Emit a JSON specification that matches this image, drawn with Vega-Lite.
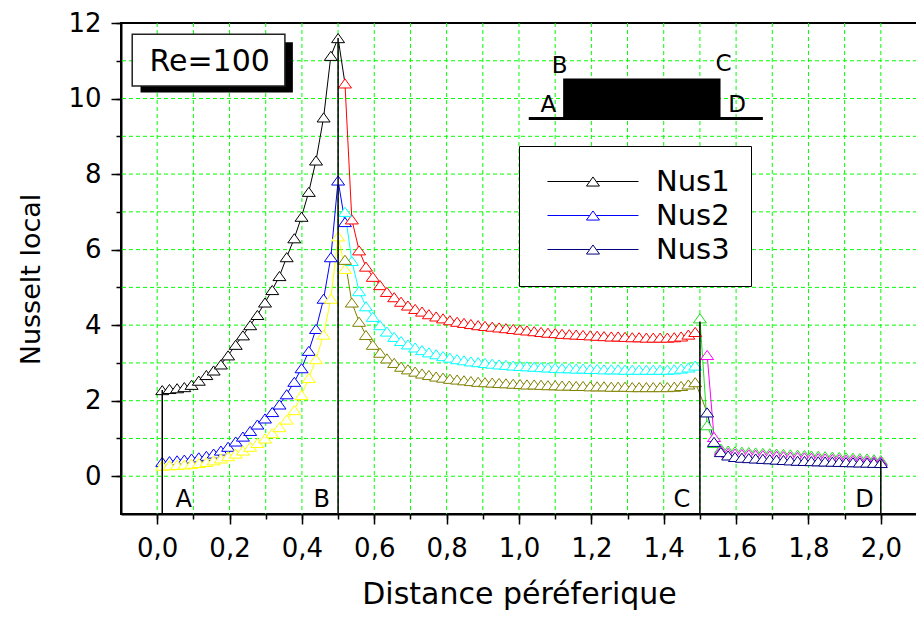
{
 "$schema": "https://vega.github.io/schema/vega-lite/v6.json",
 "width": 796, "height": 491,
 "autosize": {"type": "none"},
 "padding": {"left": 121, "top": 23, "right": 0, "bottom": 103},
 "background": "white",
 "config": {"view": {"stroke": "black", "strokeWidth": 2}, "font": "DejaVu Sans"},
 "resolve": {"axis": {"x": "independent", "y": "independent"}},
 "datasets": {
  "xgrid": [{"v":0},{"v":0.1},{"v":0.2},{"v":0.3},{"v":0.4},{"v":0.5},{"v":0.6},{"v":0.7},{"v":0.8},{"v":0.9},{"v":1.0},{"v":1.1},{"v":1.2},{"v":1.3},{"v":1.4},{"v":1.5},{"v":1.6},{"v":1.7},{"v":1.8},{"v":1.9},{"v":2.0}],
  "ygrid": [{"v":0},{"v":1},{"v":2},{"v":3},{"v":4},{"v":5},{"v":6},{"v":7},{"v":8},{"v":9},{"v":10},{"v":11}],
  "curves": [
   {"s":"Nus1","x":0.014,"y":2.28},{"s":"Nus1","x":0.034,"y":2.31},{"s":"Nus1","x":0.055,"y":2.33},{"s":"Nus1","x":0.075,"y":2.36},{"s":"Nus1","x":0.095,"y":2.42},{"s":"Nus1","x":0.115,"y":2.53},{"s":"Nus1","x":0.136,"y":2.68},{"s":"Nus1","x":0.156,"y":2.8},{"s":"Nus1","x":0.176,"y":2.96},{"s":"Nus1","x":0.196,"y":3.2},{"s":"Nus1","x":0.217,"y":3.48},{"s":"Nus1","x":0.237,"y":3.73},{"s":"Nus1","x":0.257,"y":4.0},{"s":"Nus1","x":0.277,"y":4.27},{"s":"Nus1","x":0.298,"y":4.6},{"s":"Nus1","x":0.318,"y":4.93},{"s":"Nus1","x":0.338,"y":5.3},{"s":"Nus1","x":0.358,"y":5.8},{"s":"Nus1","x":0.379,"y":6.3},{"s":"Nus1","x":0.399,"y":6.87},{"s":"Nus1","x":0.419,"y":7.53},{"s":"Nus1","x":0.439,"y":8.36},{"s":"Nus1","x":0.46,"y":9.5},{"s":"Nus1","x":0.48,"y":11.13},{"s":"Nus1","x":0.5,"y":11.6},{"s":"Nus1","x":0.519,"y":10.4,"k":1},
   {"s":"Nus2","x":0.014,"y":0.38},{"s":"Nus2","x":0.034,"y":0.4},{"s":"Nus2","x":0.055,"y":0.42},{"s":"Nus2","x":0.075,"y":0.44},{"s":"Nus2","x":0.095,"y":0.47},{"s":"Nus2","x":0.115,"y":0.5},{"s":"Nus2","x":0.136,"y":0.54},{"s":"Nus2","x":0.156,"y":0.6},{"s":"Nus2","x":0.176,"y":0.68},{"s":"Nus2","x":0.196,"y":0.78},{"s":"Nus2","x":0.217,"y":0.92},{"s":"Nus2","x":0.237,"y":1.05},{"s":"Nus2","x":0.257,"y":1.2},{"s":"Nus2","x":0.277,"y":1.37},{"s":"Nus2","x":0.298,"y":1.53},{"s":"Nus2","x":0.318,"y":1.7},{"s":"Nus2","x":0.338,"y":1.9},{"s":"Nus2","x":0.358,"y":2.17},{"s":"Nus2","x":0.379,"y":2.5},{"s":"Nus2","x":0.399,"y":2.86},{"s":"Nus2","x":0.419,"y":3.32},{"s":"Nus2","x":0.439,"y":3.9},{"s":"Nus2","x":0.46,"y":4.7},{"s":"Nus2","x":0.48,"y":5.8},{"s":"Nus2","x":0.5,"y":7.83},{"s":"Nus2","x":0.519,"y":6.73},
   {"s":"AB3","x":0.014,"y":0.28},{"s":"AB3","x":0.034,"y":0.29},{"s":"AB3","x":0.055,"y":0.3},{"s":"AB3","x":0.075,"y":0.31},{"s":"AB3","x":0.095,"y":0.33},{"s":"AB3","x":0.115,"y":0.35},{"s":"AB3","x":0.136,"y":0.38},{"s":"AB3","x":0.156,"y":0.42},{"s":"AB3","x":0.176,"y":0.47},{"s":"AB3","x":0.196,"y":0.53},{"s":"AB3","x":0.217,"y":0.6},{"s":"AB3","x":0.237,"y":0.68},{"s":"AB3","x":0.257,"y":0.78},{"s":"AB3","x":0.277,"y":0.88},{"s":"AB3","x":0.298,"y":1.0},{"s":"AB3","x":0.318,"y":1.14},{"s":"AB3","x":0.338,"y":1.3},{"s":"AB3","x":0.358,"y":1.5},{"s":"AB3","x":0.379,"y":1.75},{"s":"AB3","x":0.399,"y":2.15},{"s":"AB3","x":0.419,"y":2.6},{"s":"AB3","x":0.439,"y":3.1},{"s":"AB3","x":0.46,"y":3.75},{"s":"AB3","x":0.48,"y":4.7},{"s":"AB3","x":0.5,"y":6.35},{"s":"AB3","x":0.519,"y":5.49},
   {"s":"BC1","x":0.519,"y":10.4},{"s":"BC1","x":0.538,"y":6.8},{"s":"BC1","x":0.558,"y":5.98},{"s":"BC1","x":0.577,"y":5.55},{"s":"BC1","x":0.596,"y":5.28},{"s":"BC1","x":0.616,"y":5.06},{"s":"BC1","x":0.635,"y":4.88},{"s":"BC1","x":0.655,"y":4.74},{"s":"BC1","x":0.674,"y":4.62},{"s":"BC1","x":0.693,"y":4.52},{"s":"BC1","x":0.713,"y":4.43},{"s":"BC1","x":0.732,"y":4.36},{"s":"BC1","x":0.751,"y":4.29},{"s":"BC1","x":0.771,"y":4.23},{"s":"BC1","x":0.79,"y":4.18},{"s":"BC1","x":0.809,"y":4.13},{"s":"BC1","x":0.829,"y":4.09},{"s":"BC1","x":0.848,"y":4.06},{"s":"BC1","x":0.867,"y":4.03},{"s":"BC1","x":0.887,"y":4.0},{"s":"BC1","x":0.906,"y":3.98},{"s":"BC1","x":0.926,"y":3.96},{"s":"BC1","x":0.945,"y":3.94},{"s":"BC1","x":0.964,"y":3.92},{"s":"BC1","x":0.984,"y":3.9},{"s":"BC1","x":1.003,"y":3.88},{"s":"BC1","x":1.022,"y":3.86},{"s":"BC1","x":1.042,"y":3.84},{"s":"BC1","x":1.061,"y":3.82},{"s":"BC1","x":1.08,"y":3.8},{"s":"BC1","x":1.1,"y":3.79},{"s":"BC1","x":1.119,"y":3.77},{"s":"BC1","x":1.139,"y":3.76},{"s":"BC1","x":1.158,"y":3.75},{"s":"BC1","x":1.177,"y":3.74},{"s":"BC1","x":1.197,"y":3.73},{"s":"BC1","x":1.216,"y":3.72},{"s":"BC1","x":1.235,"y":3.71},{"s":"BC1","x":1.255,"y":3.7},{"s":"BC1","x":1.274,"y":3.7},{"s":"BC1","x":1.293,"y":3.69},{"s":"BC1","x":1.313,"y":3.68},{"s":"BC1","x":1.332,"y":3.68},{"s":"BC1","x":1.352,"y":3.67},{"s":"BC1","x":1.371,"y":3.67},{"s":"BC1","x":1.39,"y":3.67},{"s":"BC1","x":1.41,"y":3.67},{"s":"BC1","x":1.429,"y":3.68},{"s":"BC1","x":1.448,"y":3.7},{"s":"BC1","x":1.468,"y":3.75},{"s":"BC1","x":1.487,"y":3.82},
   {"s":"BC2","x":0.519,"y":7.0},{"s":"BC2","x":0.538,"y":5.7},{"s":"BC2","x":0.558,"y":4.9},{"s":"BC2","x":0.577,"y":4.5},{"s":"BC2","x":0.596,"y":4.22},{"s":"BC2","x":0.616,"y":4.0},{"s":"BC2","x":0.635,"y":3.83},{"s":"BC2","x":0.655,"y":3.69},{"s":"BC2","x":0.674,"y":3.58},{"s":"BC2","x":0.693,"y":3.49},{"s":"BC2","x":0.713,"y":3.41},{"s":"BC2","x":0.732,"y":3.34},{"s":"BC2","x":0.751,"y":3.28},{"s":"BC2","x":0.771,"y":3.23},{"s":"BC2","x":0.79,"y":3.18},{"s":"BC2","x":0.809,"y":3.14},{"s":"BC2","x":0.829,"y":3.1},{"s":"BC2","x":0.848,"y":3.07},{"s":"BC2","x":0.867,"y":3.04},{"s":"BC2","x":0.887,"y":3.02},{"s":"BC2","x":0.906,"y":3.0},{"s":"BC2","x":0.926,"y":2.98},{"s":"BC2","x":0.945,"y":2.96},{"s":"BC2","x":0.964,"y":2.95},{"s":"BC2","x":0.984,"y":2.93},{"s":"BC2","x":1.003,"y":2.92},{"s":"BC2","x":1.022,"y":2.91},{"s":"BC2","x":1.042,"y":2.9},{"s":"BC2","x":1.061,"y":2.89},{"s":"BC2","x":1.08,"y":2.88},{"s":"BC2","x":1.1,"y":2.87},{"s":"BC2","x":1.119,"y":2.86},{"s":"BC2","x":1.139,"y":2.86},{"s":"BC2","x":1.158,"y":2.85},{"s":"BC2","x":1.177,"y":2.85},{"s":"BC2","x":1.197,"y":2.84},{"s":"BC2","x":1.216,"y":2.84},{"s":"BC2","x":1.235,"y":2.83},{"s":"BC2","x":1.255,"y":2.83},{"s":"BC2","x":1.274,"y":2.83},{"s":"BC2","x":1.293,"y":2.82},{"s":"BC2","x":1.313,"y":2.82},{"s":"BC2","x":1.332,"y":2.82},{"s":"BC2","x":1.352,"y":2.82},{"s":"BC2","x":1.371,"y":2.82},{"s":"BC2","x":1.39,"y":2.82},{"s":"BC2","x":1.41,"y":2.82},{"s":"BC2","x":1.429,"y":2.83},{"s":"BC2","x":1.448,"y":2.85},{"s":"BC2","x":1.468,"y":2.88},{"s":"BC2","x":1.487,"y":2.93},
   {"s":"BC3","x":0.519,"y":5.73},{"s":"BC3","x":0.538,"y":4.6},{"s":"BC3","x":0.558,"y":4.09},{"s":"BC3","x":0.577,"y":3.74},{"s":"BC3","x":0.596,"y":3.48},{"s":"BC3","x":0.616,"y":3.27},{"s":"BC3","x":0.635,"y":3.12},{"s":"BC3","x":0.655,"y":3.0},{"s":"BC3","x":0.674,"y":2.9},{"s":"BC3","x":0.693,"y":2.83},{"s":"BC3","x":0.713,"y":2.77},{"s":"BC3","x":0.732,"y":2.72},{"s":"BC3","x":0.751,"y":2.68},{"s":"BC3","x":0.771,"y":2.64},{"s":"BC3","x":0.79,"y":2.61},{"s":"BC3","x":0.809,"y":2.58},{"s":"BC3","x":0.829,"y":2.56},{"s":"BC3","x":0.848,"y":2.54},{"s":"BC3","x":0.867,"y":2.52},{"s":"BC3","x":0.887,"y":2.5},{"s":"BC3","x":0.906,"y":2.49},{"s":"BC3","x":0.926,"y":2.48},{"s":"BC3","x":0.945,"y":2.47},{"s":"BC3","x":0.964,"y":2.46},{"s":"BC3","x":0.984,"y":2.45},{"s":"BC3","x":1.003,"y":2.44},{"s":"BC3","x":1.022,"y":2.43},{"s":"BC3","x":1.042,"y":2.43},{"s":"BC3","x":1.061,"y":2.42},{"s":"BC3","x":1.08,"y":2.41},{"s":"BC3","x":1.1,"y":2.41},{"s":"BC3","x":1.119,"y":2.4},{"s":"BC3","x":1.139,"y":2.4},{"s":"BC3","x":1.158,"y":2.39},{"s":"BC3","x":1.177,"y":2.39},{"s":"BC3","x":1.197,"y":2.38},{"s":"BC3","x":1.216,"y":2.38},{"s":"BC3","x":1.235,"y":2.38},{"s":"BC3","x":1.255,"y":2.37},{"s":"BC3","x":1.274,"y":2.37},{"s":"BC3","x":1.293,"y":2.37},{"s":"BC3","x":1.313,"y":2.36},{"s":"BC3","x":1.332,"y":2.36},{"s":"BC3","x":1.352,"y":2.36},{"s":"BC3","x":1.371,"y":2.36},{"s":"BC3","x":1.39,"y":2.36},{"s":"BC3","x":1.41,"y":2.36},{"s":"BC3","x":1.429,"y":2.37},{"s":"BC3","x":1.448,"y":2.39},{"s":"BC3","x":1.468,"y":2.43},{"s":"BC3","x":1.487,"y":2.49},{"s":"BC3","x":1.52,"y":1.69,"k":1},
   {"s":"CD1","x":1.5,"y":4.18},{"s":"CD1","x":1.52,"y":1.35},{"s":"CD1","x":1.539,"y":0.88},{"s":"CD1","x":1.558,"y":0.73},{"s":"CD1","x":1.578,"y":0.68},{"s":"CD1","x":1.597,"y":0.66},{"s":"CD1","x":1.616,"y":0.65},{"s":"CD1","x":1.635,"y":0.64},{"s":"CD1","x":1.654,"y":0.63},{"s":"CD1","x":1.674,"y":0.62},{"s":"CD1","x":1.693,"y":0.61},{"s":"CD1","x":1.712,"y":0.6},{"s":"CD1","x":1.731,"y":0.59},{"s":"CD1","x":1.75,"y":0.58},{"s":"CD1","x":1.77,"y":0.57},{"s":"CD1","x":1.789,"y":0.56},{"s":"CD1","x":1.808,"y":0.55},{"s":"CD1","x":1.827,"y":0.54},{"s":"CD1","x":1.846,"y":0.53},{"s":"CD1","x":1.866,"y":0.52},{"s":"CD1","x":1.885,"y":0.51},{"s":"CD1","x":1.904,"y":0.5},{"s":"CD1","x":1.923,"y":0.49},{"s":"CD1","x":1.942,"y":0.48},{"s":"CD1","x":1.962,"y":0.47},{"s":"CD1","x":1.981,"y":0.45},{"s":"CD1","x":2.0,"y":0.43},
   {"s":"CD2","x":1.52,"y":3.21},{"s":"CD2","x":1.539,"y":1.04},{"s":"CD2","x":1.558,"y":0.68},{"s":"CD2","x":1.578,"y":0.62},{"s":"CD2","x":1.597,"y":0.6},{"s":"CD2","x":1.616,"y":0.59},{"s":"CD2","x":1.635,"y":0.58},{"s":"CD2","x":1.654,"y":0.57},{"s":"CD2","x":1.674,"y":0.56},{"s":"CD2","x":1.693,"y":0.55},{"s":"CD2","x":1.712,"y":0.54},{"s":"CD2","x":1.731,"y":0.53},{"s":"CD2","x":1.75,"y":0.52},{"s":"CD2","x":1.77,"y":0.51},{"s":"CD2","x":1.789,"y":0.5},{"s":"CD2","x":1.808,"y":0.49},{"s":"CD2","x":1.827,"y":0.48},{"s":"CD2","x":1.846,"y":0.47},{"s":"CD2","x":1.866,"y":0.46},{"s":"CD2","x":1.885,"y":0.45},{"s":"CD2","x":1.904,"y":0.44},{"s":"CD2","x":1.923,"y":0.43},{"s":"CD2","x":1.942,"y":0.42},{"s":"CD2","x":1.962,"y":0.41},{"s":"CD2","x":1.981,"y":0.4},{"s":"CD2","x":2.0,"y":0.39},
   {"s":"Nus3","x":1.52,"y":1.69},{"s":"Nus3","x":1.539,"y":0.91},{"s":"Nus3","x":1.558,"y":0.64},{"s":"Nus3","x":1.578,"y":0.55},{"s":"Nus3","x":1.597,"y":0.51},{"s":"Nus3","x":1.616,"y":0.49},{"s":"Nus3","x":1.635,"y":0.48},{"s":"Nus3","x":1.654,"y":0.47},{"s":"Nus3","x":1.674,"y":0.46},{"s":"Nus3","x":1.693,"y":0.45},{"s":"Nus3","x":1.712,"y":0.44},{"s":"Nus3","x":1.731,"y":0.43},{"s":"Nus3","x":1.75,"y":0.42},{"s":"Nus3","x":1.77,"y":0.41},{"s":"Nus3","x":1.789,"y":0.405},{"s":"Nus3","x":1.808,"y":0.4},{"s":"Nus3","x":1.827,"y":0.395},{"s":"Nus3","x":1.846,"y":0.39},{"s":"Nus3","x":1.866,"y":0.385},{"s":"Nus3","x":1.885,"y":0.38},{"s":"Nus3","x":1.904,"y":0.375},{"s":"Nus3","x":1.923,"y":0.37},{"s":"Nus3","x":1.942,"y":0.365},{"s":"Nus3","x":1.962,"y":0.36},{"s":"Nus3","x":1.981,"y":0.355},{"s":"Nus3","x":2.0,"y":0.35}
  ],
  "drops": [
   {"x": 0.014, "top": 2.28}, {"x": 0.5, "top": 11.6}, {"x": 1.5, "top": 4.1}, {"x": 2.0, "top": 0.42}
  ],
  "points": [
   {"t": "A", "x": 0.073, "y": -0.62}, {"t": "B", "x": 0.455, "y": -0.62}, {"t": "C", "x": 1.45, "y": -0.62}, {"t": "D", "x": 1.955, "y": -0.62}
  ],
  "corners": [
   {"t": "B", "x": 1.112, "y": 10.87}, {"t": "C", "x": 1.565, "y": 10.92}, {"t": "A", "x": 1.081, "y": 9.83}, {"t": "D", "x": 1.603, "y": 9.83}
  ]
 },
 "layer": [
  {
   "data": {"name": "xgrid"},
   "mark": {"type": "rule", "color": "#00ff00", "strokeWidth": 1, "strokeDash": [4, 3]},
   "encoding": {"x": {"field": "v", "type": "quantitative", "axis": null}}
  },
  {
   "data": {"name": "ygrid"},
   "mark": {"type": "rule", "color": "#00ff00", "strokeWidth": 1, "strokeDash": [4, 3]},
   "encoding": {"y": {"field": "v", "type": "quantitative", "axis": null}}
  },
  {
   "data": {"name": "curves"},
   "mark": {"type": "line", "strokeWidth": 1},
   "encoding": {
    "x": {"field": "x", "type": "quantitative", "title": "Distance péréferique",
     "scale": {"domain": [-0.1, 2.1], "nice": false, "zero": false},
     "axis": {
      "orient": "bottom",
      "values": [0,0.1,0.2,0.3,0.4,0.5,0.6,0.7,0.8,0.9,1,1.1,1.2,1.3,1.4,1.5,1.6,1.7,1.8,1.9,2],
      "labelExpr": "round(datum.value*10) % 2 == 0 ? replace(format(datum.value, '.1f'), '.', ',') : ''",
      "labelOverlap": false, "labelFlush": false, "labelBound": false,
      "labelFont": "DejaVu Sans", "labelFontSize": 26, "labelColor": "black", "labelPadding": 16,
      "tickSize": 5, "tickColor": "black", "tickWidth": 1.5,
      "domainColor": "black", "domainWidth": 2,
      "grid": false,
      "titleFont": "DejaVu Sans", "titleFontSize": 30, "titleFontWeight": "normal", "titleColor": "black",
      "titleY": 89, "titleBaseline": "alphabetic"
     }
    },
    "y": {"field": "y", "type": "quantitative", "title": "Nusselt local",
     "scale": {"domain": [-1, 12], "nice": false, "zero": false},
     "axis": {
      "orient": "left",
      "values": [0,1,2,3,4,5,6,7,8,9,10,11,12],
      "labelExpr": "datum.value % 2 == 0 ? datum.label : ''",
      "labelOverlap": false, "labelFlush": false, "labelBound": false,
      "labelFont": "DejaVu Sans", "labelFontSize": 26, "labelColor": "black", "labelPadding": 15,
      "tickSize": 5, "tickColor": "black", "tickWidth": 1.5,
      "domainColor": "black", "domainWidth": 2,
      "grid": false,
      "titleFont": "DejaVu Sans", "titleFontSize": 27, "titleFontWeight": "normal", "titleColor": "black",
      "titleX": -82, "titleY": 256, "titleAngle": 270, "titleBaseline": "alphabetic", "titleAlign": "center"
     }
    },
    "color": {"field": "s", "type": "nominal",
     "scale": {"domain": ["Nus1","Nus2","AB3","BC1","BC2","BC3","CD1","CD2","Nus3"],
               "range": ["#000000","#0000ff","#ffff00","#ff0000","#00ffff","#808000","#22dd22","#ff00ff","#000080"]},
     "legend": {"values": ["Nus1","Nus2","Nus3"], "title": null, "orient": "none", "legendX": 398, "legendY": 123,
      "symbolType": "M-1.08,0L5.42,0M6.42,0L12.92,0M5.92,-0.7L6.92,0.7L4.92,0.7Z", "symbolSize": 169, "symbolStrokeWidth": 1, "symbolFillColor": "white",
      "labelFont": "DejaVu Sans", "labelFontSize": 29, "labelColor": "black", "labelOffset": 87, "labelLimit": 300,
      "padding": 21, "rowPadding": 4, "strokeColor": "black", "fillColor": "white"}
    }
   }
  },
  {
   "data": {"name": "curves"},
   "transform": [{"filter": "!datum.k"}],
   "mark": {"type": "point", "shape": "M0,-0.7L1,0.7L-1,0.7Z", "size": 169, "filled": true, "fill": "white", "strokeWidth": 1, "opacity": 1},
   "encoding": {
    "x": {"field": "x", "type": "quantitative", "axis": null},
    "y": {"field": "y", "type": "quantitative", "axis": null},
    "stroke": {"field": "s", "type": "nominal",
     "scale": {"domain": ["Nus1","Nus2","Nus3","AB3","BC1","BC2","BC3","CD1","CD2"],
               "range": ["#000000","#0000ff","#000080","#ffff00","#ff0000","#00ffff","#808000","#22dd22","#ff00ff"]},
     "legend": null
    }
   }
  },
  {
   "data": {"name": "drops"},
   "mark": {"type": "rule", "color": "black", "strokeWidth": 1.5},
   "encoding": {
    "x": {"field": "x", "type": "quantitative",
     "axis": {"orient": "bottom", "values": [0,0.2,0.4,0.6,0.8,1,1.2,1.4,1.6,1.8,2], "labels": false, "title": null, "domain": false, "grid": false,
      "tickSize": 10, "tickColor": "black", "tickWidth": 1.5}},
    "y": {"field": "top", "type": "quantitative",
     "axis": {"orient": "left", "values": [0,2,4,6,8,10,12], "labels": false, "title": null, "domain": false, "grid": false,
      "tickSize": 10, "tickColor": "black", "tickWidth": 1.5}},
    "y2": {"datum": -1}
   }
  },
  {
   "data": {"values": [{}]},
   "mark": {"type": "rect", "fill": "black"},
   "encoding": {"x": {"datum": -0.046, "axis": null}, "x2": {"datum": 0.375}, "y": {"datum": 11.49, "axis": null}, "y2": {"datum": 10.16}}
  },
  {
   "data": {"values": [{}]},
   "mark": {"type": "rect", "fill": "white", "stroke": "#222222", "strokeWidth": 1.5},
   "encoding": {"x": {"datum": -0.069, "axis": null}, "x2": {"datum": 0.353}, "y": {"datum": 11.7, "axis": null}, "y2": {"datum": 10.33}}
  },
  {
   "data": {"values": [{}]},
   "mark": {"type": "text", "text": "Re=100", "font": "DejaVu Sans", "fontSize": 30, "align": "center", "baseline": "alphabetic", "color": "black"},
   "encoding": {"x": {"datum": 0.145, "axis": null}, "y": {"datum": 10.73, "axis": null}}
  },
  {
   "data": {"values": [{}]},
   "mark": {"type": "rect", "fill": "black"},
   "encoding": {"x": {"datum": 1.122, "axis": null}, "x2": {"datum": 1.557}, "y": {"datum": 10.53, "axis": null}, "y2": {"datum": 9.51}}
  },
  {
   "data": {"values": [{}]},
   "mark": {"type": "rule", "color": "black", "strokeWidth": 3},
   "encoding": {"x": {"datum": 1.027, "axis": null}, "x2": {"datum": 1.674}, "y": {"datum": 9.47, "axis": null}}
  },
  {
   "data": {"name": "corners"},
   "mark": {"type": "text", "font": "DejaVu Sans", "fontSize": 23, "align": "center", "baseline": "middle", "color": "black"},
   "encoding": {"x": {"field": "x", "type": "quantitative", "axis": null}, "y": {"field": "y", "type": "quantitative", "axis": null}, "text": {"field": "t"}}
  },
  {
   "data": {"name": "points"},
   "mark": {"type": "text", "font": "DejaVu Sans", "fontSize": 24, "align": "center", "baseline": "middle", "color": "black"},
   "encoding": {"x": {"field": "x", "type": "quantitative", "axis": null}, "y": {"field": "y", "type": "quantitative", "axis": null}, "text": {"field": "t"}}
  }
 ]
}
